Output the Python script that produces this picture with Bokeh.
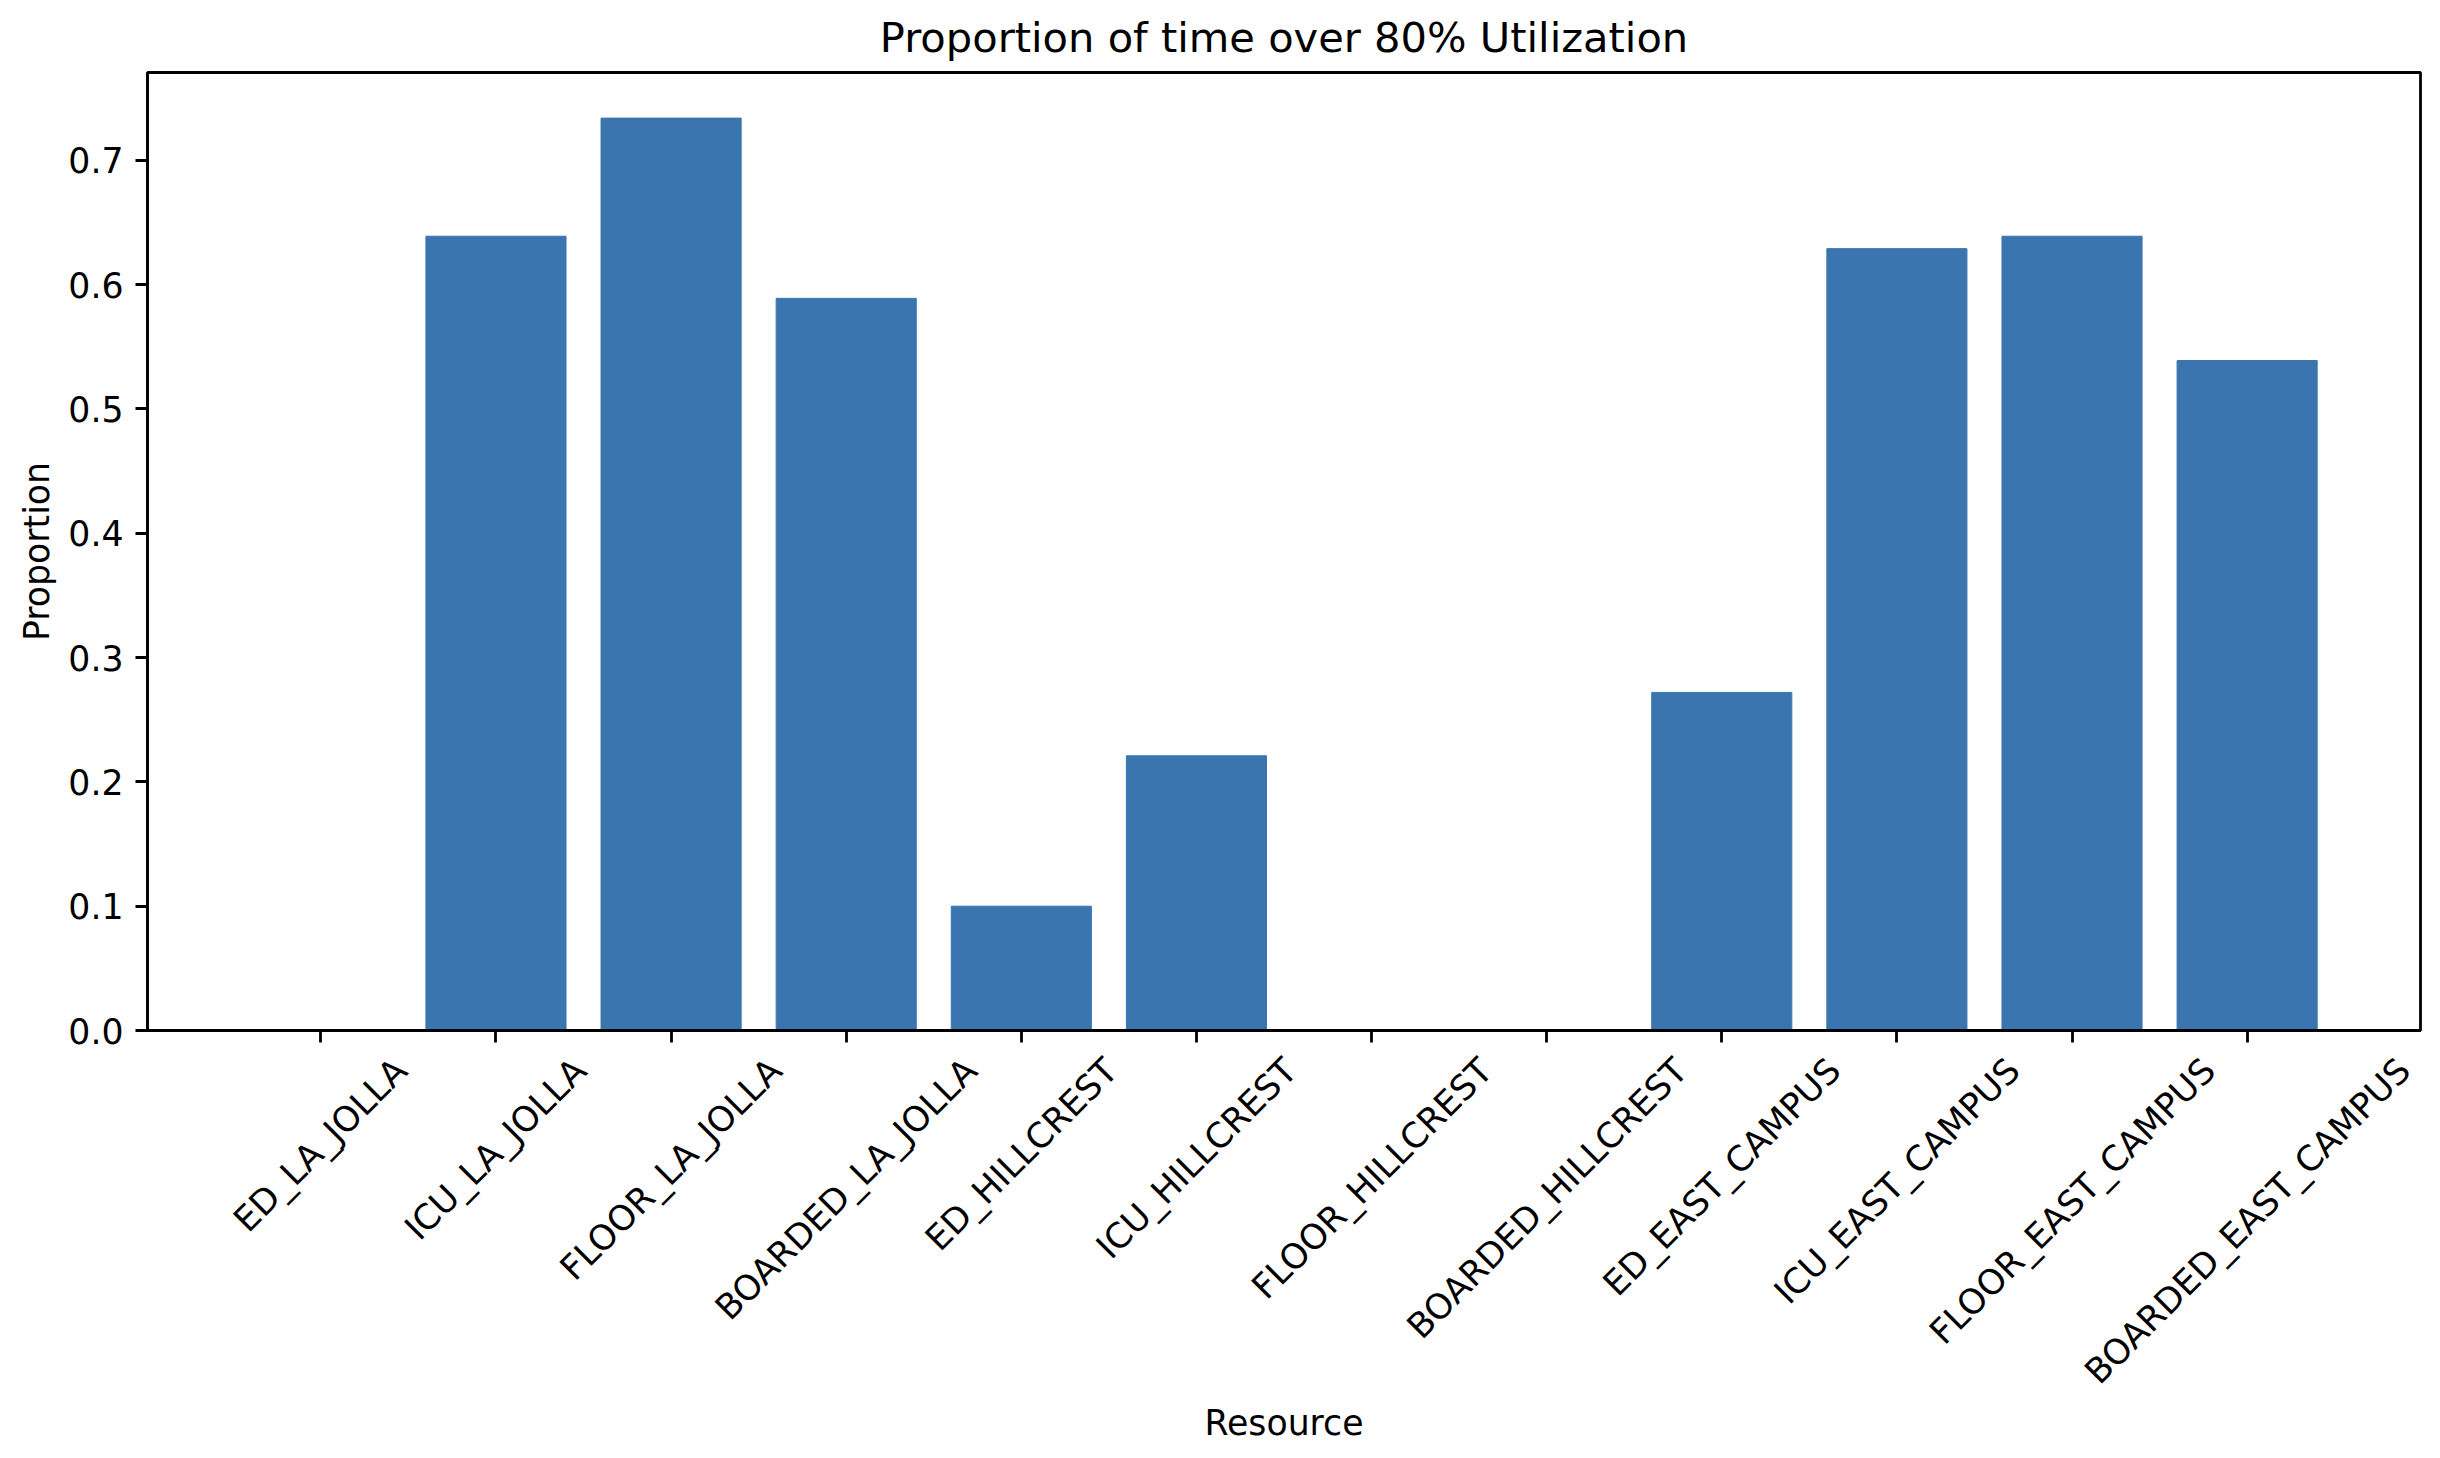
import math
from bokeh.plotting import figure
from bokeh.models import (Range1d, FixedTicker, PrintfTickFormatter,
                          ColumnDataSource, LinearAxis)
from bokeh.embed import file_html
from bokeh.resources import INLINE

# ---------------- data ----------------
resources = ["ED_LA_JOLLA", "ICU_LA_JOLLA", "FLOOR_LA_JOLLA", "BOARDED_LA_JOLLA",
             "ED_HILLCREST", "ICU_HILLCREST", "FLOOR_HILLCREST", "BOARDED_HILLCREST",
             "ED_EAST_CAMPUS", "ICU_EAST_CAMPUS", "FLOOR_EAST_CAMPUS", "BOARDED_EAST_CAMPUS"]
proportions = [0.0, 0.639, 0.734, 0.589, 0.100, 0.221, 0.0, 0.0, 0.272, 0.629, 0.639, 0.539]
y_ticks = [0.0, 0.1, 0.2, 0.3, 0.4, 0.5, 0.6, 0.7]
title_text = "Proportion of time over 80% Utilization"
x_label = "Resource"
y_label = "Proportion"

# ---------------- style ----------------
FONT = "DejaVu Sans"
TICK_PX = 34.7
TITLE_PX = 41.6
BAR_COLOR = "#3b75af"
LW = 2.8
FRAME_W, FRAME_H = 2273, 958
BAR_W = 0.8
PAD = 0.99          # x padding beyond first/last bar centre (matplotlib margins)

# approximate DejaVu Sans advance widths (em) for label layout
CHAR_W = {"A": .684, "B": .686, "C": .698, "D": .770, "E": .632, "F": .575, "G": .775,
          "H": .752, "I": .295, "J": .295, "K": .656, "L": .557, "M": .863, "N": .748,
          "O": .787, "P": .603, "R": .695, "S": .635, "T": .611, "U": .732, "_": .500}

def text_w(s):
    return sum(CHAR_W.get(c, 0.65) for c in s) * TICK_PX

n = len(resources)
idx = list(range(n))
src = ColumnDataSource(dict(x=idx, resource=resources, proportion=proportions))

p = figure(x_range=Range1d(-PAD, n - 1 + PAD),
           y_range=Range1d(0, max(proportions) * 1.05),
           frame_width=FRAME_W, frame_height=FRAME_H,
           min_border_left=147, min_border_right=12, min_border_top=72, min_border_bottom=380,
           output_backend="svg", toolbar_location=None, title=title_text)

p.vbar(x="x", top="proportion", width=BAR_W, source=src,
       fill_color=BAR_COLOR, line_color=BAR_COLOR, line_width=1)

# title
p.title.text_font = FONT
p.title.text_font_size = f"{TITLE_PX}px"
p.title.text_font_style = "normal"
p.title.text_color = "black"
p.title.align = "center"
p.title.standoff = 21

# grids / outline
p.xgrid.grid_line_color = None
p.ygrid.grid_line_color = None
p.outline_line_color = "black"
p.outline_line_width = LW
p.outline_line_alpha = 1.0
p.background_fill_color = "white"
p.border_fill_color = "white"

for ax in (p.xaxis[0], p.yaxis[0]):
    ax.axis_line_color = "black"
    ax.axis_line_width = LW
    ax.major_tick_line_color = "black"
    ax.major_tick_line_width = LW
    ax.major_tick_out = 12
    ax.major_tick_in = 0
    ax.minor_tick_line_color = None
    ax.axis_label_text_font = FONT
    ax.axis_label_text_font_size = f"{TICK_PX}px"
    ax.axis_label_text_font_style = "normal"
    ax.axis_label_text_color = "black"
    ax.major_label_text_font = FONT
    ax.major_label_text_color = "black"

p.yaxis.ticker = FixedTicker(ticks=y_ticks)
p.yaxis.formatter = PrintfTickFormatter(format="%.1f")
p.yaxis.major_label_text_font_size = f"{TICK_PX}px"
p.yaxis.major_label_standoff = 12
p.yaxis.axis_label = y_label
p.yaxis.axis_label_standoff = 8

# x axis: tick marks at each resource (labels drawn by the label axis below)
p.xaxis.ticker = FixedTicker(ticks=idx)
p.xaxis.major_label_text_font_size = "1px"
p.xaxis.major_label_text_color = None
p.xaxis.major_label_standoff = 0

# label axis: matplotlib-style rotated labels centred under each tick
px_per_unit = FRAME_W / (n - 1 + 2 * PAD)
label_pos = [i + text_w(r) / (2 * math.sqrt(2)) / px_per_unit for i, r in zip(idx, resources)]
lab_axis = LinearAxis(ticker=FixedTicker(ticks=label_pos),
                      major_label_overrides={pos: r for pos, r in zip(label_pos, resources)},
                      major_label_orientation=math.pi / 4,
                      axis_line_color=None, major_tick_line_color=None, minor_tick_line_color=None,
                      major_tick_out=0, major_tick_in=0, major_label_standoff=22,
                      major_label_text_font=FONT, major_label_text_font_size=f"{TICK_PX}px",
                      major_label_text_color="black",
                      axis_label=x_label, axis_label_standoff=-6,
                      axis_label_text_font=FONT, axis_label_text_font_size=f"{TICK_PX}px",
                      axis_label_text_font_style="normal", axis_label_text_color="black")
p.add_layout(lab_axis, "below")

open("out.html", "w").write(file_html(p, INLINE))
